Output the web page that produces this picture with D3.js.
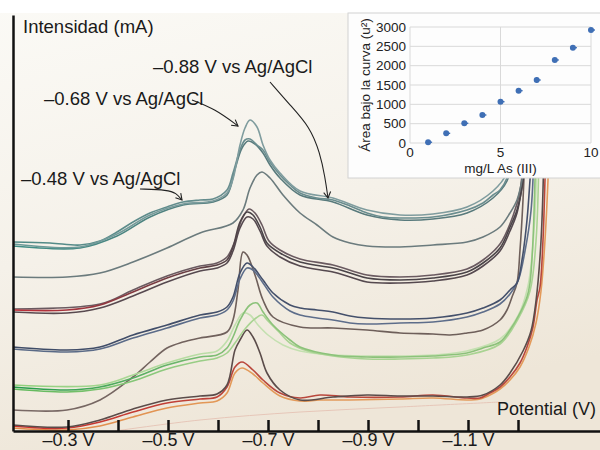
<!DOCTYPE html>
<html lang="es">
<head>
<meta charset="utf-8">
<title>Voltamperograma As (III)</title>
<script src="https://d3js.org/d3.v7.min.js"></script>
<style>
  body { margin: 0; background: #fff; }
  svg { display: block; font-family: "Liberation Sans", Arial, sans-serif; }
</style>
</head>
<body>
<script>
// traces: [potential (V), relative current]
var traceA1 = [[-0.19,189],[-0.264,188],[-0.324,186],[-0.364,190],[-0.398,199],[-0.43,209],[-0.464,218],[-0.498,224],[-0.53,229],[-0.564,231],[-0.59,232],[-0.618,241],[-0.63,258],[-0.644,281],[-0.654,291],[-0.664,292],[-0.678,286],[-0.69,281],[-0.704,269],[-0.724,256],[-0.744,246],[-0.764,238],[-0.798,233],[-0.83,231],[-0.864,225],[-0.898,218],[-0.93,214],[-0.964,213],[-1.03,214],[-1.098,221],[-1.13,228],[-1.15,236],[-1.164,241],[-1.178,253],[-1.19,281],[-1.198,311]];
var traceA2 = [[-0.19,187],[-0.324,184],[-0.398,197],[-0.464,216],[-0.53,227],[-0.59,230],[-0.618,238],[-0.63,252],[-0.644,286],[-0.654,303],[-0.664,311],[-0.678,304],[-0.69,286],[-0.704,271],[-0.724,258],[-0.764,240],[-0.83,233],[-0.898,221],[-0.964,216],[-1.03,217],[-1.098,224],[-1.15,240],[-1.178,258],[-1.19,290],[-1.198,320]];
var traceA3 = [[-0.19,185],[-0.324,183],[-0.398,195],[-0.464,214],[-0.53,226],[-0.59,229],[-0.618,236],[-0.634,262],[-0.648,283],[-0.66,290],[-0.674,287],[-0.69,278],[-0.704,266],[-0.724,253],[-0.764,236],[-0.83,229],[-0.898,216],[-0.964,211],[-1.03,212],[-1.098,218],[-1.15,233],[-1.178,250],[-1.19,278],[-1.198,305]];
var traceB = [[-0.19,154],[-0.298,154],[-0.364,158],[-0.43,169],[-0.498,183],[-0.564,198],[-0.63,208],[-0.65,221],[-0.664,243],[-0.678,256],[-0.688,259],[-0.704,253],[-0.73,236],[-0.764,218],[-0.798,206],[-0.83,194],[-0.864,188],[-0.898,185],[-0.964,184],[-1.03,186],[-1.098,189],[-1.13,194],[-1.164,204],[-1.184,218],[-1.198,231],[-1.208,251],[-1.216,281]];
var traceC1 = [[-0.19,121],[-0.298,121],[-0.364,126],[-0.43,139],[-0.498,153],[-0.564,163],[-0.598,166],[-0.618,171],[-0.63,184],[-0.644,209],[-0.658,219],[-0.67,216],[-0.684,204],[-0.698,188],[-0.724,178],[-0.764,169],[-0.83,163],[-0.864,158],[-0.898,153],[-0.964,151],[-1.03,153],[-1.098,159],[-1.13,168],[-1.164,183],[-1.184,204],[-1.198,221],[-1.208,244],[-1.216,281]];
var traceC2 = [[-0.19,119],[-0.298,118],[-0.364,123],[-0.43,135],[-0.498,149],[-0.564,160],[-0.598,163],[-0.618,168],[-0.63,180],[-0.644,203],[-0.658,214],[-0.67,212],[-0.684,200],[-0.698,185],[-0.724,174],[-0.764,165],[-0.83,159],[-0.864,154],[-0.898,149],[-0.964,148],[-1.03,150],[-1.098,156],[-1.13,165],[-1.164,180],[-1.184,200],[-1.198,218],[-1.21,250],[-1.22,285]];
var traceC3 = [[-0.19,122],[-0.364,127],[-0.43,141],[-0.498,155],[-0.564,165],[-0.598,168],[-0.618,174],[-0.634,190],[-0.648,212],[-0.662,222],[-0.674,218],[-0.688,206],[-0.702,190],[-0.724,181],[-0.764,172],[-0.83,166],[-0.898,156],[-0.964,154],[-1.03,156],[-1.098,162],[-1.13,171],[-1.164,187],[-1.19,215],[-1.204,240],[-1.212,285]];
var traceD1 = [[-0.19,84],[-0.298,81],[-0.364,84],[-0.43,96],[-0.498,106],[-0.564,116],[-0.598,119],[-0.618,124],[-0.63,134],[-0.644,158],[-0.658,168],[-0.67,164],[-0.69,151],[-0.71,138],[-0.744,126],[-0.764,123],[-0.798,121],[-0.83,119],[-0.864,115],[-0.898,113],[-0.964,112],[-1.03,113],[-1.098,118],[-1.13,123],[-1.164,131],[-1.184,141],[-1.198,148],[-1.208,171],[-1.218,211],[-1.224,251],[-1.228,281]];
var traceD2 = [[-0.19,82],[-0.298,79],[-0.364,82],[-0.43,93],[-0.498,103],[-0.564,113],[-0.598,116],[-0.618,121],[-0.63,130],[-0.644,152],[-0.658,163],[-0.67,161],[-0.69,148],[-0.71,134],[-0.744,120],[-0.764,116],[-0.798,113],[-0.83,111],[-0.864,108],[-0.898,107],[-0.964,108],[-1.03,109],[-1.098,114],[-1.13,119],[-1.164,127],[-1.184,137],[-1.2,150],[-1.214,180],[-1.226,220],[-1.232,281]];
var traceE1 = [[-0.19,44],[-0.298,41],[-0.364,44],[-0.43,53],[-0.498,66],[-0.564,74],[-0.598,76],[-0.618,83],[-0.63,94],[-0.644,111],[-0.664,126],[-0.678,128],[-0.69,119],[-0.71,106],[-0.744,91],[-0.764,84],[-0.83,76],[-0.898,74],[-0.964,74],[-1.03,75],[-1.098,78],[-1.13,83],[-1.164,89],[-1.184,101],[-1.204,118],[-1.218,134],[-1.224,148],[-1.23,191],[-1.234,251],[-1.236,281]];
var traceE2 = [[-0.19,42],[-0.298,39],[-0.364,42],[-0.43,50],[-0.498,62],[-0.564,70],[-0.598,73],[-0.618,78],[-0.634,88],[-0.654,102],[-0.676,113],[-0.688,116],[-0.7,110],[-0.72,100],[-0.744,88],[-0.78,80],[-0.83,75],[-0.898,72],[-0.964,72],[-1.03,73],[-1.098,76],[-1.164,87],[-1.2,112],[-1.224,140],[-1.236,190],[-1.242,281]];
var traceE3 = [[-0.19,46],[-0.364,46],[-0.43,56],[-0.498,68],[-0.564,77],[-0.598,80],[-0.618,90],[-0.634,106],[-0.65,118],[-0.664,116],[-0.68,106],[-0.7,96],[-0.73,86],[-0.764,80],[-0.83,76],[-0.898,75],[-0.964,75],[-1.03,76],[-1.098,80],[-1.164,92],[-1.2,115],[-1.22,145],[-1.232,200],[-1.238,281]];
var traceF = [[-0.19,21],[-0.298,21],[-0.364,31],[-0.43,54],[-0.464,69],[-0.498,83],[-0.53,89],[-0.564,93],[-0.618,99],[-0.63,111],[-0.64,141],[-0.65,179],[-0.658,176],[-0.674,156],[-0.69,131],[-0.71,114],[-0.764,104],[-0.83,103],[-0.898,101],[-0.964,98],[-1.03,97],[-1.064,96],[-1.098,98],[-1.13,101],[-1.164,111],[-1.178,121],[-1.188,134],[-1.198,148],[-1.204,181],[-1.21,231],[-1.214,281]];
var traceG1 = [[-0.19,5],[-0.244,3],[-0.298,3],[-0.364,9],[-0.43,19],[-0.498,28],[-0.564,32],[-0.598,34],[-0.618,44],[-0.634,64],[-0.648,69],[-0.67,61],[-0.69,51],[-0.724,38],[-0.764,33],[-0.804,36],[-0.864,34],[-0.964,34],[-1.03,36],[-1.098,33],[-1.124,33],[-1.144,38],[-1.164,44],[-1.184,54],[-1.204,68],[-1.218,84],[-1.23,104],[-1.238,131],[-1.244,144],[-1.25,191],[-1.254,251],[-1.256,281]];
var traceG2 = [[-0.19,3],[-0.298,1],[-0.364,5],[-0.43,14],[-0.498,23],[-0.564,28],[-0.598,30],[-0.618,38],[-0.634,58],[-0.648,63],[-0.67,57],[-0.69,48],[-0.724,35],[-0.764,30],[-0.804,31],[-0.864,31],[-0.964,32],[-1.03,33],[-1.098,31],[-1.124,32],[-1.144,36],[-1.164,42],[-1.184,51],[-1.204,64],[-1.222,84],[-1.236,108],[-1.246,140],[-1.254,191],[-1.26,251],[-1.262,281]];
var traceG3 = [[-0.19,6],[-0.298,4],[-0.364,11],[-0.43,22],[-0.498,31],[-0.564,35],[-0.598,37],[-0.618,46],[-0.634,81],[-0.644,91],[-0.658,101],[-0.67,94],[-0.684,78],[-0.698,58],[-0.724,41],[-0.764,31],[-0.83,34],[-0.898,36],[-0.964,35],[-1.03,35],[-1.098,34],[-1.13,36],[-1.164,46],[-1.184,58],[-1.21,80],[-1.226,100],[-1.236,130],[-1.246,190],[-1.252,281]];
var traceFaint = [[-0.394,0],[-0.564,11],[-0.764,19],[-0.964,24],[-1.164,29]];

var traceList = [traceFaint, traceG2, traceG1, traceG3, traceF, traceE3, traceE2, traceE1, traceD2, traceD1, traceC3, traceC2, traceC1, traceB, traceA3, traceA1, traceA2];
// pen colour at the left start and after the peak (the scanned pens fade)
var penStart = ["#e6c6b8", "#e08a48", "#d0302c", "#5b4c4a", "#7a6a66", "#8fcf7a", "#5fb85a", "#1f9a48", "#5a6a86", "#3e4b66", "#6a5a60", "#5a4a50", "#c02f3a", "#6b7b7d", "#3f8f86", "#4f8a86", "#6a9a98"];
var penEnd = ["#e6c6b8", "#e39a5a", "#b9473c", "#5b4c4a", "#6e5f5a", "#c4e0b0", "#a9d392", "#8cc27a", "#5d6d8a", "#44506b", "#6a5a60", "#55494f", "#4a4448", "#6b7b7d", "#587a7c", "#6a8d8f", "#7f9c9e"];

// potential axis
var potTicks = [-0.3, -0.4, -0.5, -0.6, -0.7, -0.8, -0.9, -1.0, -1.1, -1.2];
var potLabels = [-0.3, -0.5, -0.7, -0.9, -1.1];

// inset: area under the curve vs concentration
var conc = [1, 2, 3, 4, 5, 6, 7, 8, 9, 10];
var area = [20, 250, 510, 724, 1068, 1353, 1629, 2147, 2465, 2922];
var areaErr = [25, 30, 35, 30, 35, 40, 75, 40, 35, 50];
var insetXTicks = [0, 5, 10];
var insetYTicks = [0, 500, 1000, 1500, 2000, 2500, 3000];

var w = 600, h = 450;
var svg = d3.select("body").append("svg").attr("width", w).attr("height", h);

var x = d3.scaleLinear().domain([-0.19, -1.364]).range([13, 600]);
var y = d3.scaleLinear().domain([0, 416]).range([431, 15]);

var defs = svg.append("defs");
var bg = defs.append("linearGradient").attr("id", "paper").attr("x1", 0).attr("y1", 0).attr("x2", 0.3).attr("y2", 1);
bg.append("stop").attr("offset", "0%").attr("stop-color", "#fbfaf6");
bg.append("stop").attr("offset", "55%").attr("stop-color", "#f5f1e9");
bg.append("stop").attr("offset", "100%").attr("stop-color", "#eee6d8");

traceList.forEach(function(t, i) {
  var g = defs.append("linearGradient").attr("id", "pen" + i)
    .attr("gradientUnits", "userSpaceOnUse")
    .attr("x1", x(-0.19)).attr("x2", x(-0.66)).attr("y1", 0).attr("y2", 0);
  g.append("stop").attr("offset", "0%").attr("stop-color", penStart[i]);
  g.append("stop").attr("offset", "100%").attr("stop-color", penEnd[i]);
});

defs.append("marker").attr("id", "head")
  .attr("viewBox", "-8 -5 10 10").attr("refX", 0).attr("refY", 0)
  .attr("markerWidth", 10).attr("markerHeight", 10).attr("markerUnits", "userSpaceOnUse")
  .attr("orient", "auto")
  .append("path").attr("d", "M-6,-3.5L0,0L-6,3.5").attr("fill", "none").attr("stroke", "#222").attr("stroke-width", 1.1);

svg.append("rect").attr("width", w).attr("height", h).attr("fill", "url(#paper)");
svg.append("rect").attr("width", w).attr("height", 13).attr("fill", "#ffffff");

var line = d3.line()
  .x(function(d) { return x(d[0]); })
  .y(function(d) { return y(d[1]); })
  .curve(d3.curveCatmullRom.alpha(0.5));

svg.append("g").selectAll("path").data(traceList).enter().append("path")
  .attr("d", line)
  .attr("fill", "none")
  .attr("stroke", function(d, i) { return "url(#pen" + i + ")"; })
  .attr("stroke-width", function(d, i) { return i === 0 ? 1 : 1.6; })
  .attr("stroke-linejoin", "round");

// axes
var xAxis = d3.axisBottom(x).tickValues(potTicks).tickSizeInner(-11).tickSizeOuter(0).tickPadding(4)
  .tickFormat(function(d) {
    return potLabels.indexOf(d) >= 0 ? "\u2013" + Math.abs(d).toFixed(1) + " V" : "";
  });
var gx = svg.append("g").attr("transform", "translate(0," + y(0) + ")").call(xAxis);
gx.select(".domain").attr("stroke", "#111").attr("stroke-width", 2.5);
gx.selectAll(".tick line").attr("stroke", "#111").attr("stroke-width", 2.5);
gx.selectAll(".tick text").attr("fill", "#1a1a1a").attr("dy", null).attr("y", 15)
  .style("font-size", "18px").style("font-family", "Liberation Sans, Arial, sans-serif");

var yAxis = d3.axisLeft(y).tickValues([]).tickSizeOuter(0);
var gy = svg.append("g").attr("transform", "translate(" + x(-0.19) + ",0)").call(yAxis);
gy.select(".domain").attr("stroke", "#111").attr("stroke-width", 2.5);

svg.append("text").attr("x", 23).attr("y", 33).attr("fill", "#1a1a1a").style("font-size", "18.5px").text("Intensidad (mA)");
svg.append("text").attr("x", 497).attr("y", 415).attr("fill", "#1a1a1a").style("font-size", "18px").text("Potential (V)");

// peak annotations
svg.append("text").attr("x", 153).attr("y", 73).attr("fill", "#1a1a1a").style("font-size", "18.5px").text("\u20130.88 V vs Ag/AgCl");
svg.append("text").attr("x", 44).attr("y", 105).attr("fill", "#1a1a1a").style("font-size", "18.5px").text("\u20130.68 V vs Ag/AgCl");
svg.append("text").attr("x", 21).attr("y", 185).attr("fill", "#1a1a1a").style("font-size", "18.5px").text("\u20130.48 V vs Ag/AgCl");

var arrow = d3.line().x(function(d) { return x(d[0]); }).y(function(d) { return y(d[1]); }).curve(d3.curveBasis);
var arrows = [
  [[-0.548, 331], [-0.594, 322], [-0.64, 305]],
  [[-0.704, 349], [-0.744, 326], [-0.784, 304], [-0.804, 278], [-0.814, 254], [-0.82, 233]],
  [[-0.444, 242], [-0.5, 241], [-0.516, 238], [-0.528, 231]]
];
svg.append("g").selectAll("path").data(arrows).enter().append("path")
  .attr("d", arrow).attr("fill", "none").attr("stroke", "#222").attr("stroke-width", 1.1)
  .attr("marker-end", "url(#head)");

// inset chart
var inset = svg.append("g");
inset.append("rect").attr("x", 348).attr("y", 13).attr("width", 262).attr("height", 165)
  .attr("fill", "#fdfdfd").attr("stroke", "#d2d2d2");

var ix = d3.scaleLinear().domain([0, 10]).range([410, 591]);
var iy = d3.scaleLinear().domain([0, 3000]).range([143, 27]);

inset.append("g").selectAll("line").data(insetYTicks).enter().append("line")
  .attr("x1", ix(0)).attr("x2", ix(10)).attr("y1", iy).attr("y2", iy)
  .attr("stroke", "#d9d9d9");
inset.append("g").selectAll("line").data(insetXTicks).enter().append("line")
  .attr("x1", ix).attr("x2", ix).attr("y1", iy(0)).attr("y2", iy(3000))
  .attr("stroke", "#d9d9d9");

inset.append("g").selectAll("text").data(insetYTicks).enter().append("text")
  .attr("x", ix(0) - 4).attr("y", iy).attr("dy", "0.35em").attr("text-anchor", "end")
  .attr("fill", "#222").style("font-size", "13.5px").text(function(d) { return d; });
inset.append("g").selectAll("text").data(insetXTicks).enter().append("text")
  .attr("x", ix).attr("y", 157).attr("text-anchor", "middle")
  .attr("fill", "#222").style("font-size", "13.5px").text(function(d) { return d; });
inset.append("text").attr("x", (ix(0) + ix(10)) / 2).attr("y", 173).attr("text-anchor", "middle")
  .attr("fill", "#222").style("font-size", "13.5px").text("mg/L As (III)");
inset.append("text").attr("transform", "translate(370," + ((iy(0) + iy(3000)) / 2) + ") rotate(-90)")
  .attr("text-anchor", "middle").attr("fill", "#222").style("font-size", "13.5px")
  .text("\u00c1rea bajo la curva (u\u00b2)");

var pts = inset.append("g").selectAll("g").data(conc).enter().append("g");
pts.append("line")
  .attr("x1", function(d) { return ix(d); }).attr("x2", function(d) { return ix(d); })
  .attr("y1", function(d, i) { return iy(area[i] - areaErr[i]); })
  .attr("y2", function(d, i) { return iy(area[i] + areaErr[i]); })
  .attr("stroke", "#3f6fb5").attr("stroke-width", 1.2);
pts.append("line")
  .attr("x1", function(d) { return ix(d); }).attr("x2", function(d) { return ix(d) + 4; })
  .attr("y1", function(d, i) { return iy(area[i]); }).attr("y2", function(d, i) { return iy(area[i]); })
  .attr("stroke", "#3f6fb5").attr("stroke-width", 1.4);
pts.append("circle")
  .attr("cx", function(d) { return ix(d); })
  .attr("cy", function(d, i) { return iy(area[i]); })
  .attr("r", 3).attr("fill", "#3f6fb5");
</script>
</body>
</html>
